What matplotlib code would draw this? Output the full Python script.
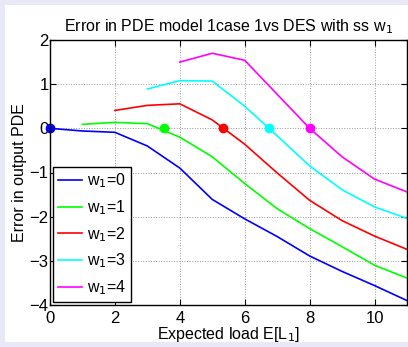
import numpy as np
import matplotlib.pyplot as plt
from matplotlib.patches import Rectangle

plt.rcParams['font.family'] = ['Liberation Sans', 'DejaVu Sans']

# curves for each w1 (x = expected load, y = error)
x0 = [0, 1, 2, 3, 4, 5, 6, 7, 8, 9, 10, 11]
y0 = [0, -0.06, -0.09, -0.40, -0.90, -1.61, -2.05, -2.45, -2.89, -3.24, -3.56, -3.90]
x1 = [1, 2, 3, 4, 5, 6, 7, 8, 9, 10, 11]
y1 = [0.09, 0.135, 0.105, -0.20, -0.645, -1.25, -1.82, -2.27, -2.68, -3.10, -3.39]
x2 = [2, 3, 4, 5, 6, 7, 8, 9, 10, 11]
y2 = [0.405, 0.52, 0.555, 0.19, -0.36, -1.01, -1.63, -2.09, -2.44, -2.74]
x3 = [3, 4, 5, 6, 7, 8, 9, 10, 11]
y3 = [0.89, 1.08, 1.07, 0.50, -0.17, -0.85, -1.39, -1.78, -2.04]
x4 = [4, 5, 6, 7, 8, 9, 10, 11]
y4 = [1.50, 1.70, 1.54, 0.77, 0.0, -0.645, -1.15, -1.44]

# steady-state points (zero crossings)
ss_x = [0, 3.5, 5.32, 6.75, 8.0]
ss_y = [0, 0, 0, 0, 0]

colors = ['#0000ff', '#00ff00', '#ff0000', '#00ffff', '#ff00ff']
labels = ['w$_1$=0', 'w$_1$=1', 'w$_1$=2', 'w$_1$=3', 'w$_1$=4']

fig = plt.figure(figsize=(4.08, 3.47), dpi=100)
fig.patch.set_facecolor('#e8e8f6')
fig.patches.append(Rectangle((5/408, 5/347), 1, 1 - 10/347, transform=fig.transFigure,
                             facecolor='white', edgecolor='none', zorder=-1))

ax = fig.add_axes([50/408, 42/347, 357/408, 265/347])
xs = [x0, x1, x2, x3, x4]
ys = [y0, y1, y2, y3, y4]
for i in range(5):
    ax.plot(xs[i], ys[i], color=colors[i], lw=1.2, label=labels[i])
for i in range(5):
    ax.plot(ss_x[i], ss_y[i], 'o', color=colors[i], ms=6, clip_on=False)

ax.set_xlim(0, 11)
ax.set_ylim(-4, 2)
ax.set_xticks([0, 2, 4, 6, 8, 10])
ax.set_yticks([-4, -3, -2, -1, 0, 1, 2])
ax.set_yticklabels(['\u22124', '\u22123', '\u22122', '\u22121', '0', '1', '2'])
ax.tick_params(direction='in', labelsize=12, length=4, top=True, right=True)
ax.tick_params(axis='x', pad=4.5)
ax.tick_params(axis='y', pad=1)
ax.grid(True, linestyle=':', color='#999999', lw=0.7)
for s in ax.spines.values():
    s.set_linewidth(1.0)

ax.set_title('Error in PDE model 1case 1vs DES with ss w$_1$', fontsize=11.5, pad=6)
ax.set_xlabel('Expected load E[L$_1$]', fontsize=11.5, labelpad=-1)
ax.set_ylabel('Error in output PDE', fontsize=11.5, labelpad=2)

leg = ax.legend(loc='lower left', fontsize=11.5, fancybox=False, framealpha=1,
                edgecolor='black', handlelength=1.5, borderaxespad=0.2,
                labelspacing=0.5, handletextpad=0.3, borderpad=0.3)
leg.get_frame().set_linewidth(1.0)

fig.savefig('out.png', dpi=100, facecolor=fig.get_facecolor())
